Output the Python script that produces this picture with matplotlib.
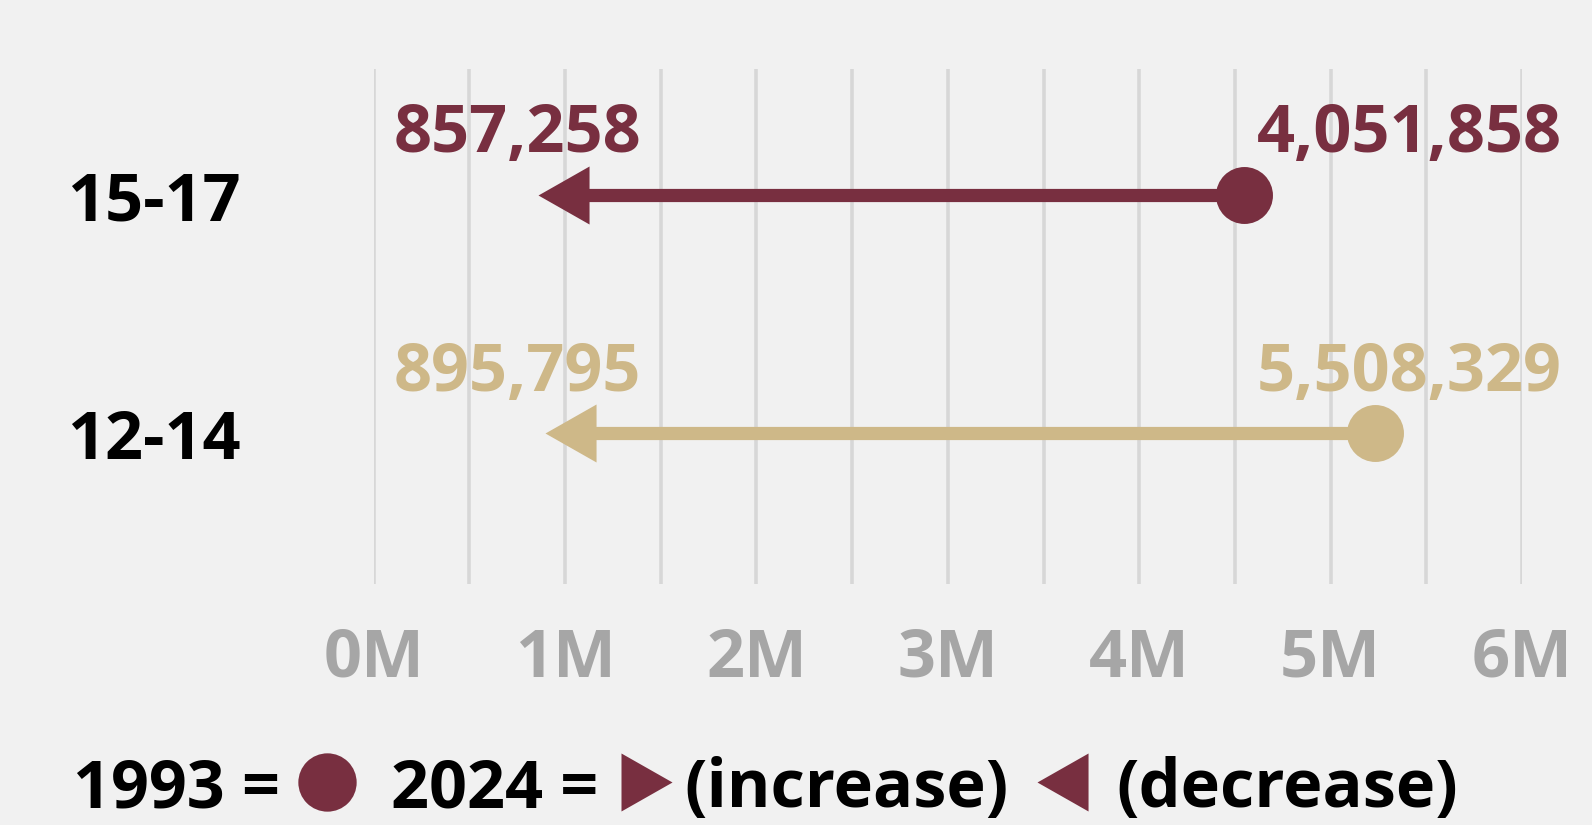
import matplotlib
matplotlib.use("Agg")
import matplotlib.pyplot as plt
import numpy as np

# data
groups = ["15-17", "12-14"]
val_1993 = [4051858, 5508329]   # printed labels
val_2024 = [857258, 895795]     # printed labels, arrow tips
dot_1993 = [4.55e6, 5.23e6]     # where the 1993 dots sit in the source picture
colors = ["#782F40", "#CEB888"]
ticks = [0, 1e6, 2e6, 3e6, 4e6, 5e6, 6e6]
tick_labels = ["0M", "1M", "2M", "3M", "4M", "5M", "6M"]

bg = "#F1F1F1"
plt.rcParams["font.family"] = ["Open Sans", "DejaVu Sans"]
plt.rcParams["font.weight"] = "bold"

W, H, DPI = 1592, 825, 100
fig = plt.figure(figsize=(W / DPI, H / DPI), dpi=DPI, facecolor=bg)

# main axes, placed in pixels
x0, x1, y_top, y_bot = 373.7, 1522, 69, 584
ax = fig.add_axes([x0 / W, 1 - y_bot / H, (x1 - x0) / W, (y_bot - y_top) / H])
ax.set_facecolor(bg)
ax.set_xlim(0, 6e6)
ax.set_ylim(-0.631, 1.528)
for s in ax.spines.values():
    s.set_visible(False)

ax.set_xticks(ticks, tick_labels)
ax.set_xticks(np.arange(0.5e6, 6e6, 1e6), minor=True)
ax.grid(True, axis="x", which="both", color="#D7D7D7", linewidth=2.6, zorder=0)
ax.tick_params(axis="x", which="both", length=0, pad=30, labelsize=48,
               labelcolor="#A6A6A6")

ypos = [1, 0]
ax.set_yticks(ypos, groups)
ax.tick_params(axis="y", length=0, pad=96, labelsize=48, labelcolor="black")

fig.canvas.draw()
px_per_unit = ax.transData.transform((1e6, 0))[0] - ax.transData.transform((0, 0))[0]
head_len = 51 / px_per_unit * 1e6  # arrow head length in data units

# left-pointing arrow head with tip at the marker origin
head = [(0, 0), (0.88, 0.5), (0.88, -0.5), (0, 0)]

for y, a, b, dot, c in zip(ypos, val_1993, val_2024, dot_1993, colors):
    ax.plot([dot, b + head_len * 0.95], [y, y], color=c, linewidth=9.5,
            solid_capstyle="butt", zorder=3)
    ax.plot([dot], [y], marker="o", markersize=41, color=c, zorder=4,
            markeredgewidth=0)
    ax.plot([b], [y], marker=head, markersize=73.5, color=c, zorder=4,
            markeredgewidth=0)
    ax.text(0.75e6, y + 0.179, f"{b:,}", color=c, fontsize=48,
            fontweight="bold", ha="center", va="baseline", clip_on=False)
    ax.text(5.41e6, y + 0.179, f"{a:,}", color=c, fontsize=48,
            fontweight="bold", ha="center", va="baseline", clip_on=False)

# legend row drawn on an overlay in pixel coordinates
lg = fig.add_axes([0, 0, 1, 1], facecolor="none")
lg.set_xlim(0, W)
lg.set_ylim(H, 0)
lg.axis("off")
base = 807
lg.text(73, base, "1993 =", fontsize=48, fontweight="bold", va="baseline")
lg.plot([327], [782], marker="o", markersize=42, color=colors[0],
        markeredgewidth=0)
lg.text(391, base, "2024 =", fontsize=48, fontweight="bold", va="baseline")
lg.plot([621], [782], marker=[(0, 0.5), (0, -0.5), (0.88, 0), (0, 0.5)],
        markersize=73.5, color=colors[0], markeredgewidth=0)
lg.text(684, base, "(increase)", fontsize=48, fontweight="bold", va="baseline")
lg.plot([1037], [782], marker=head, markersize=73.5, color=colors[0],
        markeredgewidth=0)
lg.text(1116, base, "(decrease)", fontsize=48, fontweight="bold", va="baseline")

fig.savefig("out.png", dpi=DPI, facecolor=bg)
